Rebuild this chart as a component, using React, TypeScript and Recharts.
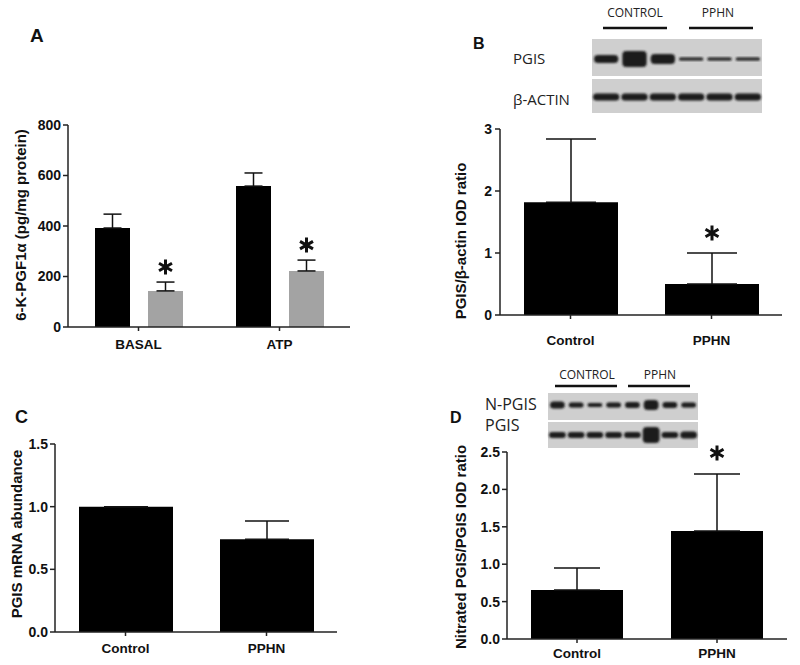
import React from 'react';
import { BarChart, Bar, XAxis, YAxis, ErrorBar, LabelList } from 'recharts';

// A: 6-keto-PGF1α release (pg/mg protein)
const groupsA = ['BASAL', 'ATP'];
const controlA = [392, 558];
const controlErrA = [55, 52];
const pphnA = [143, 222];
const pphnErrA = [35, 43];
const sigA = [true, true];
const ticksA = [0, 200, 400, 600, 800];

// B: PGIS / β-actin IOD ratio
const groupsB = ['Control', 'PPHN'];
const ratioB = [1.82, 0.5];
const ratioErrB = [1.02, 0.5];
const sigB = [false, true];
const ticksB = [0, 1, 2, 3];

// C: PGIS mRNA abundance
const groupsC = ['Control', 'PPHN'];
const mrnaC = [1.0, 0.74];
const mrnaErrC = [0, 0.145];
const ticksC = [0, 0.5, 1.0, 1.5];

// D: nitrated PGIS / PGIS IOD ratio
const groupsD = ['Control', 'PPHN'];
const nitratedD = [0.655, 1.445];
const nitratedErrD = [0.295, 0.76];
const sigD = [false, true];
const ticksD = [0, 0.5, 1.0, 1.5, 2.0, 2.5];

// western blot band sizes (relative band heights per lane)
const blotBTop = [8, 16, 10, 3, 3, 3];
const blotBBottom = [7, 7, 7, 7, 7, 7];
const blotDTop = [7, 5, 4, 5, 6, 10, 6, 5];
const blotDBottom = [6, 6, 6, 6, 6, 16, 6, 7];

const dataA = groupsA.map((g, i) => ({
  name: g,
  control: controlA[i],
  controlErr: [0, controlErrA[i]],
  pphn: pphnA[i],
  pphnErr: [0, pphnErrA[i]],
}));
const dataB = groupsB.map((g, i) => ({ name: g, v: ratioB[i], err: [0, ratioErrB[i]] }));
const dataC = groupsC.map((g, i) => ({ name: g, v: mrnaC[i], err: [0, mrnaErrC[i]] }));
const dataD = groupsD.map((g, i) => ({ name: g, v: nitratedD[i], err: [0, nitratedErrD[i]] }));

const AX = '#222';
const FONT = '"Liberation Sans", Arial, sans-serif';
const BLOT_FONT = '"Open Sans", "Noto Sans", sans-serif';
const xTick = { fill: '#111', fontSize: 13.5, fontWeight: 700, fontFamily: FONT };
const yTick = { fill: '#111', fontSize: 14, fontWeight: 700, fontFamily: FONT };

// asterisk drawn above the error bar of significant bars
const starLabel = (errs: number[], sig: boolean[], gap: number) => (props: any) => {
  const { x, y, width, height, value, index } = props;
  if (!sig[index] || !value) return null;
  const top = y - (errs[index] * height) / value;
  const cx = x + width / 2;
  const cy = top - gap;
  const r = 7.5;
  const d = [0, 60, 120]
    .map((a) => {
      const t = (a * Math.PI) / 180;
      const dx = Math.sin(t) * r;
      const dy = Math.cos(t) * r;
      return `M${cx - dx},${cy - dy}L${cx + dx},${cy + dy}`;
    })
    .join('');
  return <path d={d} stroke="#111" strokeWidth={3} />;
};

const fmt1 = (v: number) => v.toFixed(1);

const Blot = ({ x, y, w, h1, h2, gap, lanes, top, bottom, topY, botY }: any) => {
  const lw = w / lanes;
  return (
    <g>
      <rect x={x} y={y} width={w} height={h1} fill="#cfcfcf" />
      <rect x={x} y={y + h1 + gap} width={w} height={h2} fill="#cfcfcf" />
      {top.map((bh: number, i: number) => (
        <rect key={`t${i}`} x={x + i * lw + 2} y={topY - bh / 2} width={lw - 4} height={bh} rx={Math.min(bh / 2, 4)} fill="#1c1c1c" filter="url(#soft)" />
      ))}
      {bottom.map((bh: number, i: number) => (
        <rect key={`b${i}`} x={x + i * lw + 1} y={botY - bh / 2} width={lw - 2} height={bh} rx={Math.min(bh / 2, 4)} fill="#1c1c1c" filter="url(#soft)" />
      ))}
    </g>
  );
};

export default function App() {
  return (
    <div style={{ position: 'absolute', left: 0, top: 0, width: 800, height: 665, background: '#fff' }}>
      {/* Panel A */}
      <div style={{ position: 'absolute', left: 0, top: 0 }}>
        <BarChart width={360} height={360} data={dataA} margin={{ top: 125, right: 10, left: 0, bottom: 3 }} barGap={18}>
          <XAxis dataKey="name" height={30} stroke={AX} strokeWidth={1.5} tickSize={4} tickMargin={8} tick={xTick} />
          <YAxis width={68} domain={[0, 800]} ticks={ticksA} stroke={AX} strokeWidth={1.5} tickSize={5} tickMargin={2} tick={yTick} />
          <Bar dataKey="control" fill="#000" barSize={35} isAnimationActive={false}>
            <ErrorBar dataKey="controlErr" width={9} stroke="#111" strokeWidth={1.5} isAnimationActive={false} />
          </Bar>
          <Bar dataKey="pphn" fill="#a3a3a3" barSize={35} isAnimationActive={false}>
            <ErrorBar dataKey="pphnErr" width={9} stroke="#111" strokeWidth={1.5} isAnimationActive={false} />
            <LabelList dataKey="pphn" content={starLabel(pphnErrA, sigA, 15)} />
          </Bar>
        </BarChart>
      </div>

      {/* Panel B */}
      <div style={{ position: 'absolute', left: 400, top: 0 }}>
        <BarChart width={390} height={360} data={dataB} margin={{ top: 129, right: 8, left: 0, bottom: 15 }}>
          <XAxis dataKey="name" height={30} stroke={AX} strokeWidth={1.5} tickSize={4} tickMargin={16} tick={xTick} />
          <YAxis width={100} domain={[0, 3]} ticks={ticksB} stroke={AX} strokeWidth={1.5} tickSize={5} tickMargin={3} tick={yTick} />
          <Bar dataKey="v" fill="#000" barSize={94} isAnimationActive={false}>
            <ErrorBar dataKey="err" width={25} stroke="#111" strokeWidth={1.5} isAnimationActive={false} />
            <LabelList dataKey="v" content={starLabel(ratioErrB, sigB, 20)} />
          </Bar>
        </BarChart>
      </div>

      {/* Panel C */}
      <div style={{ position: 'absolute', left: 0, top: 400 }}>
        <BarChart width={345} height={265} data={dataC} margin={{ top: 44, right: 8, left: 0, bottom: 3 }}>
          <XAxis dataKey="name" height={30} stroke={AX} strokeWidth={1.5} tickSize={4} tickMargin={7} tick={xTick} />
          <YAxis width={55} domain={[0, 1.5]} ticks={ticksC} tickFormatter={fmt1} stroke={AX} strokeWidth={1.5} tickSize={5} tickMargin={2} tick={yTick} />
          <Bar dataKey="v" fill="#000" barSize={94} isAnimationActive={false}>
            <ErrorBar dataKey="err" width={22} stroke="#111" strokeWidth={1.5} isAnimationActive={false} />
          </Bar>
        </BarChart>
      </div>

      {/* Panel D */}
      <div style={{ position: 'absolute', left: 400, top: 400 }}>
        <BarChart width={390} height={265} data={dataD} margin={{ top: 52, right: 3, left: 0, bottom: 0 }}>
          <XAxis dataKey="name" height={26} stroke={AX} strokeWidth={1.5} tickSize={4} tickMargin={5} tick={xTick} />
          <YAxis width={107} domain={[0, 2.5]} ticks={ticksD} tickFormatter={fmt1} stroke={AX} strokeWidth={1.5} tickSize={5} tickMargin={2} tick={yTick} />
          <Bar dataKey="v" fill="#000" barSize={92} isAnimationActive={false}>
            <ErrorBar dataKey="err" width={23} stroke="#111" strokeWidth={1.5} isAnimationActive={false} />
            <LabelList dataKey="v" content={starLabel(nitratedErrD, sigD, 21)} />
          </Bar>
        </BarChart>
      </div>

      {/* titles, axis titles and blot insets */}
      <svg width={800} height={665} style={{ position: 'absolute', left: 0, top: 0, pointerEvents: 'none' }}>
        <defs>
          <filter id="soft" x="-20%" y="-50%" width="140%" height="200%">
            <feGaussianBlur stdDeviation="1" />
          </filter>
        </defs>
        <g fontFamily={FONT} fontWeight={700} fill="#111">
          <text x={30} y={42} fontSize={19}>A</text>
          <text x={473} y={49} fontSize={16}>B</text>
          <text x={15} y={423} fontSize={18}>C</text>
          <text x={450} y={423} fontSize={16}>D</text>
        </g>
        <g fontFamily={FONT} fontWeight={700} fontSize={15} fill="#111" textAnchor="middle">
          <text transform="translate(20,225) rotate(-90)" dominantBaseline="central">6-K-PGF1α (pg/mg protein)</text>
          <text transform="translate(460,241) rotate(-90)" dominantBaseline="central">PGIS/β-actin IOD ratio</text>
          <text transform="translate(16,534) rotate(-90)" dominantBaseline="central">PGIS mRNA abundance</text>
          <text transform="translate(460,547) rotate(-90)" dominantBaseline="central">Nitrated PGIS/PGIS IOD ratio</text>
        </g>

        {/* B blot */}
        <g fontFamily={BLOT_FONT} fill="#222">
          <text x={635} y={17} fontSize={12} textAnchor="middle">CONTROL</text>
          <text x={718} y={17} fontSize={12} textAnchor="middle">PPHN</text>
          <text x={513} y={64} fontSize={15}>PGIS</text>
          <text x={513} y={105} fontSize={15}>β-ACTIN</text>
        </g>
        <line x1={603} x2={667} y1={28} y2={28} stroke="#111" strokeWidth={2.5} />
        <line x1={689} x2={753} y1={28} y2={28} stroke="#111" strokeWidth={2.5} />
        <Blot x={592} y={39} w={170} h1={37} h2={34} gap={3} lanes={6} top={blotBTop} bottom={blotBBottom} topY={59} botY={97} />

        {/* D blot */}
        <g fontFamily={BLOT_FONT} fill="#222">
          <text x={587} y={379} fontSize={12} textAnchor="middle">CONTROL</text>
          <text x={660} y={379} fontSize={12} textAnchor="middle">PPHN</text>
          <text x={485} y={410} fontSize={16}>N-PGIS</text>
          <text x={485} y={431} fontSize={16}>PGIS</text>
        </g>
        <line x1={555} x2={617} y1={386} y2={386} stroke="#111" strokeWidth={2.5} />
        <line x1={628} x2={690} y1={386} y2={386} stroke="#111" strokeWidth={2.5} />
        <Blot x={548} y={393} w={150} h1={27} h2={26} gap={2} lanes={8} top={blotDTop} bottom={blotDBottom} topY={405} botY={435} />
      </svg>
    </div>
  );
}
